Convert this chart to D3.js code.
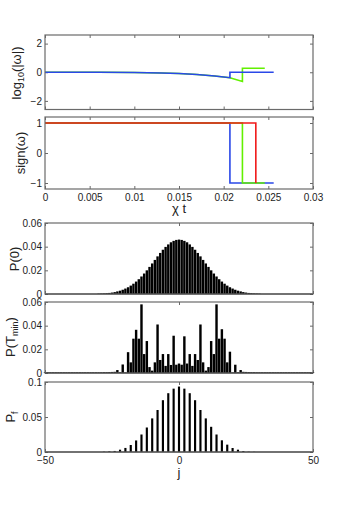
<!DOCTYPE html>
<html>
<head>
<meta charset="utf-8">
<script src="https://cdn.jsdelivr.net/npm/d3@7"></script>
<style>
  body { margin: 0; background: #fff; }
  text { font-family: "Liberation Sans", Arial, sans-serif; fill: #222; }
</style>
</head>
<body>
<svg id="fig" width="346" height="509"></svg>
<script>
// ---- data ----
const timeTicks = [0, 0.005, 0.01, 0.015, 0.02, 0.025, 0.03];

// log10(|w|) panel
const blueT = [0, 0.006, 0.010, 0.013, 0.015, 0.017, 0.019, 0.0207, 0.0207, 0.0256];
const blueLog = [0, -0.005, -0.02, -0.05, -0.09, -0.16, -0.26, -0.38, 0, 0];
const greenT = [0, 0.006, 0.010, 0.013, 0.015, 0.017, 0.019, 0.0207, 0.0221, 0.0221, 0.0246];
const greenLog = [0, -0.005, -0.02, -0.05, -0.09, -0.16, -0.26, -0.38, -0.64, 0.28, 0.28];

// sign(w) panel
const blueSignT = [0, 0.0207, 0.0207, 0.0256];
const blueSign = [1, 1, -1, -1];
const greenSignT = [0, 0.0221, 0.0221, 0.0246];
const greenSign = [1, 1, -1, -1];
const redSignT = [0, 0.0236, 0.0236];
const redSign = [1, 1, -1];

// P(0), j = -30..30
const p0J = d3.range(-30, 31);
const p0 = [0.0003, 0.0004, 0.0005, 0.0007, 0.0009, 0.0012, 0.0016, 0.0022, 0.0028, 0.0036,
  0.0046, 0.0057, 0.0071, 0.0087, 0.0105, 0.0125, 0.0148, 0.0173, 0.0200, 0.0229,
  0.0258, 0.0288, 0.0318, 0.0347, 0.0374, 0.0398, 0.0419, 0.0437, 0.0449, 0.0457,
  0.0460,
  0.0457, 0.0449, 0.0437, 0.0419, 0.0398, 0.0374, 0.0347, 0.0318, 0.0288, 0.0258,
  0.0229, 0.0200, 0.0173, 0.0148, 0.0125, 0.0105, 0.0087, 0.0071, 0.0057, 0.0046,
  0.0036, 0.0028, 0.0022, 0.0016, 0.0012, 0.0009, 0.0007, 0.0005, 0.0004, 0.0003];

// P(T_min), j = -50..50
const ptJ = d3.range(-50, 51);
const pt = [0.0006, 0.0006, 0.0006, 0.0006, 0.0006, 0.0006, 0.0006, 0.0006, 0.0006, 0.0006,
  0.0006, 0.0006, 0.0006, 0.0006, 0.0006, 0.0006, 0.0006, 0.0006, 0.0006, 0.0006,
  0.0006, 0.0006, 0.0007, 0.0007, 0.0008, 0.0009, 0.0010,
  0.0025, 0.0006, 0.0072, 0.0004, 0.0176, 0.009, 0.029, 0.0365, 0.029, 0.058,
  0.016, 0.027, 0.005, 0.002, 0.009, 0.041, 0.011, 0.016, 0.006, 0.016,
  0.0068, 0.0315, 0.007,
  0.008,
  0.007, 0.031, 0.008, 0.016, 0.006, 0.016, 0.011, 0.041, 0.009, 0.002,
  0.005, 0.027, 0.016, 0.058, 0.029, 0.037, 0.029, 0.009, 0.018, 0.0004,
  0.007, 0.0006, 0.0025,
  0.0010, 0.0009, 0.0008, 0.0007, 0.0007, 0.0006, 0.0006, 0.0006, 0.0006, 0.0006,
  0.0006, 0.0006, 0.0006, 0.0006, 0.0006, 0.0006, 0.0006, 0.0006, 0.0006, 0.0006,
  0.0006, 0.0006, 0.0006, 0.0006, 0.0006, 0.0006, 0.0006];

// P_f, even j = -28..28
const pfJ = d3.range(-28, 29, 2);
const pf = [0.0005, 0.001, 0.0015, 0.0033, 0.0058, 0.0100, 0.0165, 0.025, 0.035, 0.048,
  0.060, 0.074, 0.084, 0.0905,
  0.0935,
  0.0905, 0.084, 0.074, 0.060, 0.048, 0.036, 0.025, 0.0167, 0.0105, 0.0057,
  0.0033, 0.0014, 0.0005, 0.0003];

// ---- layout ----
const svg = d3.select("#fig");
const left = 45, right = 313;
const frameColor = "#6a6a6a";
const blue = "#2a48e8", green = "#62f000", red = "#f01a1a";

const minus = (s) => String(s).replace("-", "\u2212");

function panel(top, bottom, xDomain, yDomain, yTicks, xTicks, showX) {
  const x = d3.scaleLinear().domain(xDomain).range([left, right]);
  const y = d3.scaleLinear().domain(yDomain).range([bottom, top]);
  const g = svg.append("g");

  const axes = [
    [d3.axisLeft(y).tickValues(yTicks).tickFormat(minus), `translate(${left},0)`, 3],
    [d3.axisRight(y).tickValues(yTicks).tickFormat(""), `translate(${right},0)`, 3],
    [d3.axisBottom(x).tickValues(xTicks).tickFormat(showX ? minus : ""), `translate(0,${bottom})`, 5],
    [d3.axisTop(x).tickValues(xTicks).tickFormat(""), `translate(0,${top})`, 3],
  ];
  axes.forEach(([ax, tr, pad]) => {
    const a = g.append("g")
      .attr("transform", tr)
      .call(ax.tickSizeInner(-3).tickSizeOuter(0).tickPadding(pad));
    a.select(".domain").remove();
    a.selectAll("line").attr("stroke", frameColor);
    a.selectAll("text").attr("font-size", 10).attr("fill", "#222")
      .style("font-family", '"Liberation Sans", Arial, sans-serif');
  });

  return { g, x, y, top, bottom };
}

function frame(p) {
  p.g.append("rect")
    .attr("x", left).attr("y", p.top)
    .attr("width", right - left).attr("height", p.bottom - p.top)
    .attr("fill", "none").attr("stroke", frameColor).attr("stroke-width", 1.2);
}

function drawLine(p, xs, ys, color) {
  const line = d3.line().x((d) => p.x(d[0])).y((d) => p.y(d[1]));
  p.g.append("path")
    .datum(xs.map((t, i) => [t, ys[i]]))
    .attr("d", line)
    .attr("fill", "none")
    .attr("stroke", color)
    .attr("stroke-width", 1.6);
}

function drawBars(p, js, vals, frac) {
  const w = (p.x(1) - p.x(0)) * frac;
  p.g.append("g").selectAll("rect")
    .data(js.map((j, i) => [j, vals[i]]))
    .enter()
    .append("rect")
    .attr("x", (d) => p.x(d[0]) - w / 2)
    .attr("y", (d) => p.y(d[1]))
    .attr("width", w)
    .attr("height", (d) => p.y(0) - p.y(d[1]))
    .attr("fill", "#000");
  p.g.append("line")
    .attr("x1", left).attr("x2", right)
    .attr("y1", p.y(0)).attr("y2", p.y(0))
    .attr("stroke", "#000").attr("stroke-width", 1.2);
}

function yLabel(x, y, parts) {
  const t = svg.append("text")
    .attr("transform", `translate(${x},${y}) rotate(-90)`)
    .attr("text-anchor", "middle")
    .attr("font-size", 13);
  parts.forEach(([s, sub]) => {
    t.append("tspan")
      .attr("font-size", sub ? 9 : 13)
      .attr("dy", sub ? 3 : (sub === false ? -3 : 0))
      .text(s);
  });
}

// panel 1: log10(|w|)
const p1 = panel(35, 109.5, [0, 0.03], [-2.6, 2.6], [-2, 0, 2], timeTicks, false);
drawLine(p1, greenT, greenLog, green);
drawLine(p1, blueT, blueLog, blue);
frame(p1);
yLabel(21, 73, [["log", null], ["10", true], ["(|\u03c9|)", false]]);

// panel 2: sign(w)
const p2 = panel(117, 189, [0, 0.03], [-1.2, 1.2], [-1, 0, 1], timeTicks, true);
drawLine(p2, blueSignT, blueSign, blue);
drawLine(p2, greenSignT, greenSign, green);
drawLine(p2, redSignT, redSign, red);
frame(p2);
yLabel(25, 153, [["sign(\u03c9)", null]]);
svg.append("text")
  .attr("x", 179).attr("y", 213)
  .attr("text-anchor", "middle").attr("font-size", 13)
  .text("\u03c7 t");

// panel 3: P(0)
const p3 = panel(223, 294, [-50, 50], [0, 0.06], [0, 0.02, 0.04, 0.06], [-50, 0, 50], false);
drawBars(p3, p0J, p0, 0.9);
frame(p3);
yLabel(19, 259, [["P(0)", null]]);

// panel 4: P(T_min)
const p4 = panel(302, 373, [-50, 50], [0, 0.06], [0, 0.02, 0.04, 0.06], [-50, 0, 50], false);
drawBars(p4, ptJ, pt, 0.9);
frame(p4);
yLabel(15, 337, [["P(T", null], ["min", true], [")", false]]);

// panel 5: P_f
const p5 = panel(382, 452, [-50, 50], [0, 0.1], [0, 0.05, 0.1], [-50, 0, 50], true);
drawBars(p5, pfJ, pf, 0.8);
frame(p5);
yLabel(15, 417, [["P", null], ["f", true]]);
svg.append("text")
  .attr("x", 179).attr("y", 477)
  .attr("text-anchor", "middle").attr("font-size", 13)
  .attr("fill", "#000")
  .text("j");
</script>
</body>
</html>
